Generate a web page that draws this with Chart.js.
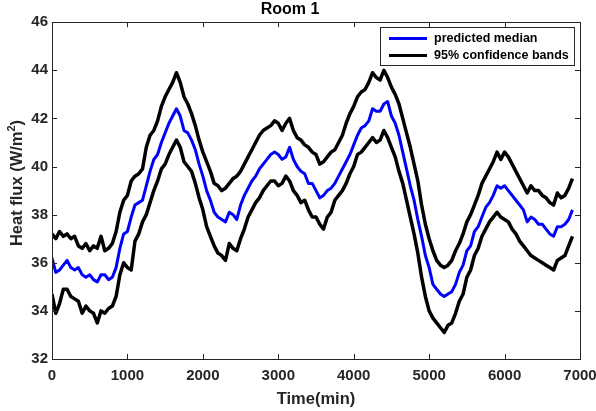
<!DOCTYPE html>
<html>
<head>
<meta charset="utf-8">
<script src="https://cdn.jsdelivr.net/npm/chart.js@4"></script>
<style>
  body { margin: 0; background: #fff; }
  canvas { display: block; }
</style>
</head>
<body>
<canvas id="chart" width="596" height="411"></canvas>
<script>
// time axis (min)
const times = [
  0, 50, 100, 150, 200, 250, 300, 350, 400, 450, 500, 550, 600, 650, 700, 750, 800, 850, 900, 950,
  1000, 1050, 1100, 1150, 1200, 1250, 1300, 1350, 1400, 1450, 1500, 1550, 1600, 1650, 1700, 1750, 1800, 1850, 1900, 1950,
  2000, 2050, 2100, 2150, 2200, 2250, 2300, 2350, 2400, 2450, 2500, 2550, 2600, 2650, 2700, 2750, 2800, 2850, 2900, 2950,
  3000, 3050, 3100, 3150, 3200, 3250, 3300, 3350, 3400, 3450, 3500, 3550, 3600, 3650, 3700, 3750, 3800, 3850, 3900, 3950,
  4000, 4050, 4100, 4150, 4200, 4250, 4300, 4350, 4400, 4450, 4500, 4550, 4600, 4650, 4700, 4750, 4800, 4850, 4900, 4950,
  5000, 5050, 5100, 5150, 5200, 5250, 5300, 5350, 5400, 5450, 5500, 5550, 5600, 5650, 5700, 5750, 5800, 5850, 5900, 5950,
  6000, 6050, 6100, 6150, 6200, 6250, 6300, 6350, 6400, 6450, 6500, 6550, 6600, 6650, 6700, 6750, 6800, 6850, 6900
];

const medianVals = [
  36.2, 35.6, 35.7, 35.9, 36.1, 35.8, 35.7, 35.8, 35.5, 35.4, 35.5, 35.3, 35.2, 35.5, 35.5, 35.3, 35.4, 35.8, 36.6, 37.2,
  37.3, 37.9, 38.4, 38.5, 38.6, 39.2, 39.8, 40.3, 40.5, 41.0, 41.4, 41.8, 42.1, 42.4, 42.1, 41.5, 41.4, 41.1, 40.7, 40.1,
  39.6, 39.0, 38.6, 38.1, 37.9, 37.8, 37.7, 38.1, 38.0, 37.8, 38.4, 38.8, 39.1, 39.4, 39.6, 39.9, 40.1, 40.3, 40.5, 40.6,
  40.5, 40.3, 40.4, 40.8, 40.3, 40.0, 39.8, 39.7, 39.3, 39.3, 39.0, 38.7, 38.8, 39.0, 39.1, 39.3, 39.6, 39.9, 40.2, 40.5,
  40.9, 41.3, 41.6, 41.7, 41.9, 42.4, 42.3, 42.3, 42.6, 42.7, 42.1, 41.8, 41.3, 40.6, 39.9, 39.2, 38.6, 37.8, 37.1, 36.3,
  35.8, 35.1, 34.9, 34.7, 34.6, 34.7, 34.8, 35.1, 35.6, 35.9, 36.5, 36.7, 37.3, 37.5, 37.9, 38.3, 38.5, 38.8, 39.2, 39.1,
  39.2, 39.0, 38.8, 38.6, 38.4, 38.2, 37.7, 37.9, 37.8, 37.6, 37.6, 37.4, 37.2, 37.1, 37.5, 37.5, 37.6, 37.8, 38.2
];

const upperVals = [
  37.2, 37.0, 37.3, 37.1, 37.2, 37.0, 37.1, 36.7, 36.6, 36.8, 36.5, 36.7, 36.6, 37.1, 36.5, 36.6, 36.8, 37.3, 38.1, 38.6,
  38.8, 39.4, 39.6, 39.7, 39.9, 40.8, 41.3, 41.5, 41.9, 42.5, 42.9, 43.2, 43.5, 43.9, 43.5, 42.9, 42.6, 42.2, 41.7, 41.1,
  40.6, 40.2, 39.8, 39.3, 39.2, 39.0, 39.1, 39.3, 39.5, 39.6, 39.8, 40.1, 40.4, 40.7, 41.0, 41.3, 41.5, 41.6, 41.7, 41.9,
  41.8, 41.5, 41.8, 42.0, 41.5, 41.2, 41.1, 40.9, 40.8, 40.6, 40.5, 40.1, 40.2, 40.4, 40.6, 40.7, 41.0, 41.3, 41.8, 42.2,
  42.5, 42.9, 43.1, 43.2, 43.5, 43.9, 43.7, 43.6, 44.0, 43.7, 43.3, 43.0, 42.6, 42.0, 41.4, 40.8, 40.1, 39.4, 38.4, 37.6,
  37.0, 36.5, 36.1, 35.9, 35.8, 35.9, 36.1, 36.5, 36.8, 37.2, 37.7, 38.0, 38.4, 38.8, 39.3, 39.6, 39.9, 40.2, 40.6, 40.3,
  40.6, 40.4, 40.1, 39.8, 39.5, 39.2, 38.9, 39.2, 39.0, 39.0, 38.8, 38.7, 38.5, 38.4, 38.9, 38.7, 38.8, 39.1, 39.5
];

const lowerVals = [
  34.7, 33.9, 34.3, 34.9, 34.9, 34.6, 34.5, 34.4, 33.9, 34.2, 34.0, 33.9, 33.5, 34.0, 33.9, 34.1, 34.2, 34.6, 35.5, 36.0,
  35.8, 35.7, 36.9, 37.2, 37.7, 38.0, 38.5, 39.0, 39.4, 39.9, 40.1, 40.5, 40.8, 41.1, 40.8, 40.2, 40.0, 39.8, 39.3, 38.7,
  38.2, 37.5, 37.1, 36.7, 36.4, 36.3, 36.1, 36.8, 36.6, 36.5, 37.0, 37.4, 37.9, 38.2, 38.5, 38.7, 39.0, 39.2, 39.4, 39.4,
  39.2, 39.3, 39.6, 39.4, 39.0, 38.8, 38.5, 38.6, 38.2, 37.9, 37.9, 37.6, 37.4, 37.9, 38.1, 38.6, 38.8, 39.0, 39.3, 39.7,
  40.0, 40.5, 40.6, 40.8, 41.0, 41.2, 41.0, 41.1, 41.5, 41.2, 40.8, 40.4, 39.8, 39.3, 38.6, 37.9, 37.2, 36.4, 35.4, 34.6,
  34.0, 33.7, 33.5, 33.3, 33.1, 33.4, 33.5, 33.9, 34.4, 34.7, 35.4, 35.7, 36.3, 36.6, 37.1, 37.4, 37.7, 37.9, 38.1, 37.9,
  37.8, 37.7, 37.4, 37.2, 36.9, 36.7, 36.5, 36.3, 36.2, 36.1, 36.0, 35.9, 35.8, 35.7, 36.1, 36.2, 36.3, 36.7, 37.1
];

const axisColor = '#262626';
const fontFamily = '"Liberation Sans", Arial, Helvetica, sans-serif';

function toPoints(vals) {
  return vals.map((v, i) => ({ x: times[i], y: v }));
}

// box, inward ticks, y label with superscript, legend
const matlabAxes = {
  id: 'matlabAxes',
  afterDraw(chart) {
    const ctx = chart.ctx;
    const area = chart.chartArea;
    const xs = chart.scales.x;
    const ys = chart.scales.y;
    ctx.save();
    ctx.strokeStyle = axisColor;
    ctx.lineWidth = 1;
    ctx.strokeRect(Math.round(area.left) + 0.5, Math.round(area.top) + 0.5,
      Math.round(area.right - area.left), Math.round(area.bottom - area.top));

    const tl = 5;
    ctx.beginPath();
    xs.ticks.forEach(t => {
      const px = Math.round(xs.getPixelForValue(t.value)) + 0.5;
      ctx.moveTo(px, area.bottom); ctx.lineTo(px, area.bottom - tl);
      ctx.moveTo(px, area.top); ctx.lineTo(px, area.top + tl);
    });
    ys.ticks.forEach(t => {
      const py = Math.round(ys.getPixelForValue(t.value)) + 0.5;
      ctx.moveTo(area.left, py); ctx.lineTo(area.left + tl, py);
      ctx.moveTo(area.right, py); ctx.lineTo(area.right - tl, py);
    });
    ctx.stroke();

    // y axis label
    ctx.fillStyle = axisColor;
    ctx.translate(22, 183);
    ctx.rotate(-Math.PI / 2);
    ctx.textBaseline = 'alphabetic';
    const main = 'Heat flux (W/m';
    const bigFont = 'bold 16.5px ' + fontFamily;
    const smallFont = 'bold 11px ' + fontFamily;
    ctx.font = bigFont;
    const w1 = ctx.measureText(main).width;
    const w3 = ctx.measureText(')').width;
    ctx.font = smallFont;
    const w2 = ctx.measureText('2').width;
    let x0 = -(w1 + w2 + w3) / 2;
    ctx.font = bigFont;
    ctx.fillText(main, x0, 0);
    ctx.font = smallFont;
    ctx.fillText('2', x0 + w1, -7);
    ctx.font = bigFont;
    ctx.fillText(')', x0 + w1 + w2, 0);
    ctx.restore();

    // legend
    ctx.save();
    ctx.fillStyle = '#ffffff';
    ctx.fillRect(380.5, 27.5, 194, 38);
    ctx.strokeStyle = axisColor;
    ctx.lineWidth = 1;
    ctx.strokeRect(380.5, 27.5, 194, 38);
    ctx.lineWidth = 3;
    ctx.strokeStyle = '#0000ff';
    ctx.beginPath(); ctx.moveTo(389, 38.5); ctx.lineTo(427, 38.5); ctx.stroke();
    ctx.strokeStyle = '#000000';
    ctx.beginPath(); ctx.moveTo(389, 55.5); ctx.lineTo(427, 55.5); ctx.stroke();
    ctx.fillStyle = '#000000';
    ctx.font = 'bold 12.5px ' + fontFamily;
    ctx.textBaseline = 'middle';
    ctx.fillText('predicted median', 434, 39);
    ctx.fillText('95% confidence bands', 434, 56);
    ctx.restore();
  }
};

new Chart(document.getElementById('chart'), {
  type: 'line',
  data: {
    datasets: [
      { label: 'upper', data: toPoints(upperVals), borderColor: '#000000', borderWidth: 3.5 },
      { label: 'lower', data: toPoints(lowerVals), borderColor: '#000000', borderWidth: 3.5 },
      { label: 'predicted median', data: toPoints(medianVals), borderColor: '#0000ff', borderWidth: 3 }
    ]
  },
  options: {
    responsive: false,
    animation: false,
    elements: { point: { radius: 0 }, line: { tension: 0, borderJoinStyle: 'round' } },
    layout: { padding: { top: 0, right: 16, left: 0, bottom: 0 } },
    plugins: {
      legend: { display: false },
      tooltip: { enabled: false },
      title: {
        display: true,
        text: 'Room 1',
        color: '#000000',
        font: { family: fontFamily, size: 16, weight: 'bold' },
        padding: { top: 0, bottom: 3 }
      }
    },
    scales: {
      x: {
        type: 'linear',
        min: 0,
        max: 7000,
        afterFit: s => { s.height = 52; s.paddingLeft = 0; s.paddingRight = 0; },
        grid: { display: false, drawTicks: false },
        border: { display: false },
        ticks: {
          stepSize: 1000,
          padding: 8,
          color: axisColor,
          maxRotation: 0,
          callback: v => String(v),
          font: { family: fontFamily, size: 15, weight: 'bold' }
        },
        title: {
          display: true,
          text: 'Time(min)',
          color: axisColor,
          padding: { top: 0, bottom: 2 },
          font: { family: fontFamily, size: 16.5, weight: 'bold' }
        }
      },
      y: {
        min: 32,
        max: 46,
        afterFit: s => { s.width = 52; s.paddingTop = 0; s.paddingBottom = 0; },
        grid: { display: false, drawTicks: false },
        border: { display: false },
        ticks: {
          stepSize: 2,
          padding: 4,
          color: axisColor,
          callback: v => String(v),
          font: { family: fontFamily, size: 15, weight: 'bold' }
        }
      }
    }
  },
  plugins: [matlabAxes]
});
</script>
</body>
</html>
